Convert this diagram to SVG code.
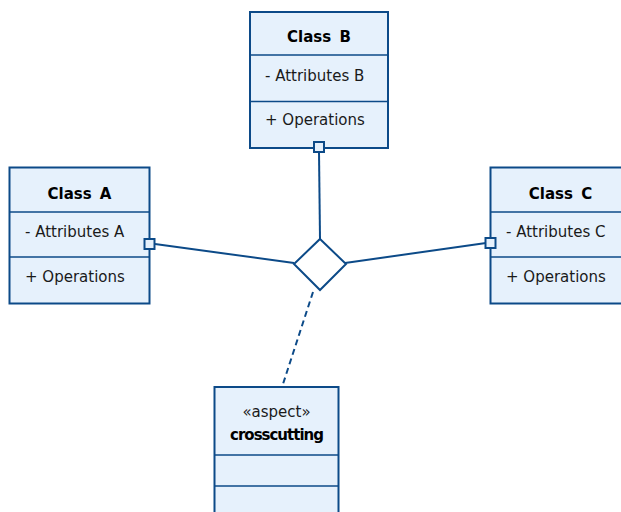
<svg xmlns="http://www.w3.org/2000/svg" width="621" height="512" viewBox="0 0 621 512">
<style>
.box{fill:#e6f1fc;stroke:#0c4a88;stroke-width:2}
.div{stroke:#0c4a88;stroke-width:1.5;fill:none}
.t{font-family:"DejaVu Sans",Verdana,sans-serif;font-size:15px;fill:#1a1a1a}
.h{font-family:"DejaVu Sans",Verdana,sans-serif;font-size:15px;font-weight:bold;fill:#000;text-anchor:middle;word-spacing:3px}
.c{text-anchor:middle}
.ln{stroke:#0c4a88;stroke-width:2;fill:none}
.port{fill:#e6f1fc;stroke:#0c4a88;stroke-width:2}
</style>
<rect width="621" height="512" fill="#fff"/>
<g id="connectors">
<line class="ln" x1="319" y1="152" x2="320" y2="239"/>
<line class="ln" x1="155" y1="244" x2="294" y2="263"/>
<line class="ln" x1="486" y1="243" x2="345" y2="263"/>
<line class="ln" x1="313" y1="292" x2="283" y2="384" stroke-dasharray="6 4"/>
</g>
<g id="classB">
<rect class="box" x="250" y="12" width="138" height="136"/>
<line class="div" x1="250" y1="55" x2="388" y2="55"/>
<line class="div" x1="250" y1="101.5" x2="388" y2="101.5"/>
<text class="h" x="319" y="42">Class B</text>
<text class="t" x="265" y="81">- Attributes B</text>
<text class="t" x="265" y="125">+ Operations</text>
<rect class="port" x="314" y="142" width="10" height="10"/>
</g>
<g id="classA">
<rect class="box" x="9.5" y="167.5" width="140" height="136"/>
<line class="div" x1="9.5" y1="212" x2="149.5" y2="212"/>
<line class="div" x1="9.5" y1="257" x2="149.5" y2="257"/>
<text class="h" x="79.5" y="199">Class A</text>
<text class="t" x="25" y="237">- Attributes A</text>
<text class="t" x="25" y="282">+ Operations</text>
<rect class="port" x="144.5" y="239" width="10" height="10"/>
</g>
<g id="classC">
<rect class="box" x="490.5" y="167.5" width="140" height="136"/>
<line class="div" x1="490.5" y1="212" x2="630" y2="212"/>
<line class="div" x1="490.5" y1="257" x2="630" y2="257"/>
<text class="h" x="560.5" y="199">Class C</text>
<text class="t" x="506" y="237">- Attributes C</text>
<text class="t" x="506" y="282">+ Operations</text>
<rect class="port" x="485.5" y="238" width="10" height="10"/>
</g>
<g id="diamond">
<polygon points="320,239 346,264 320,290 294,264" fill="#fff" stroke="#0c4a88" stroke-width="2"/>
</g>
<g id="aspect">
<rect class="box" x="214.5" y="387" width="124" height="140"/>
<line class="div" x1="214.5" y1="455" x2="338.5" y2="455"/>
<line class="div" x1="214.5" y1="486" x2="338.5" y2="486"/>
<text class="t c" x="276.5" y="417">«aspect»</text>
<text class="h" x="276.5" y="440" style="word-spacing:0;letter-spacing:-1px">crosscutting</text>
</g>
</svg>
